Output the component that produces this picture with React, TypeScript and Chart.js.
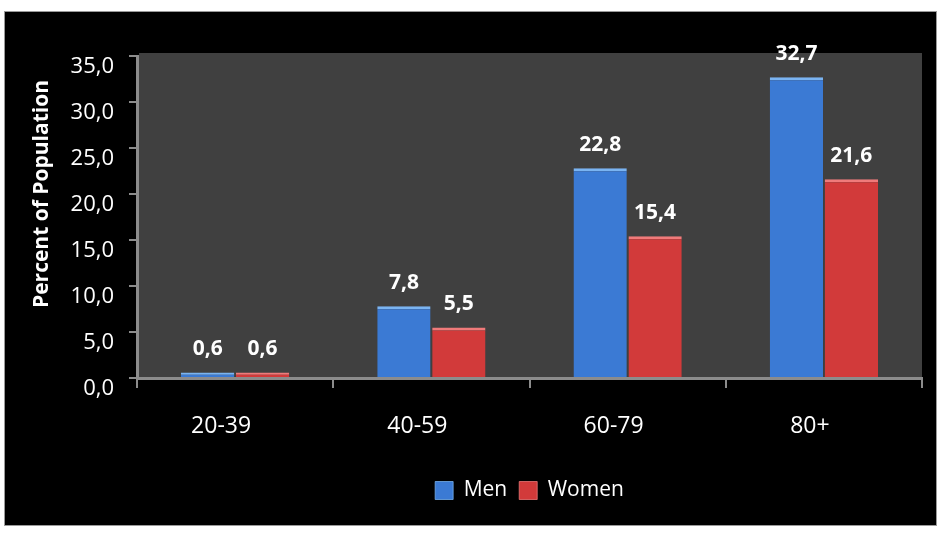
import React, { useEffect, useRef } from "react";
import { Chart, registerables } from "chart.js";

Chart.register(...registerables);

const categories = ["20-39", "40-59", "60-79", "80+"];
const seriesNames = ["Men", "Women"];
const menValues = [0.6, 7.8, 22.8, 32.7];
const womenValues = [0.6, 5.5, 15.4, 21.6];
const yTicks = [0, 5, 10, 15, 20, 25, 30, 35];
const yTitle = "Percent of Population";

const fmt = (v: number) => v.toFixed(1).replace(".", ",");

const FONT = "'Open Sans', 'DejaVu Sans', sans-serif";

const plotBg = {
  id: "plotBg",
  beforeDraw(chart: any) {
    const { ctx, chartArea } = chart;
    ctx.save();
    ctx.fillStyle = "#404040";
    ctx.fillRect(chartArea.left + 2, chartArea.top - 3, chartArea.right - chartArea.left - 2, chartArea.bottom - chartArea.top + 3);
    ctx.restore();
  },
};

const valueLabels = {
  id: "valueLabels",
  afterDatasetsDraw(chart: any) {
    const { ctx } = chart;
    ctx.save();
    ctx.font = `bold 21px ${FONT}`;
    ctx.fillStyle = "#ffffff";
    ctx.textAlign = "center";
    ctx.textBaseline = "middle";
    chart.data.datasets.forEach((ds: any, di: number) => {
      const meta = chart.getDatasetMeta(di);
      meta.data.forEach((bar: any, i: number) => {
        ctx.fillText(fmt(ds.data[i]), bar.x, bar.y - 23);
      });
    });
    ctx.restore();
  },
};

const yTitlePlugin = {
  id: "yTitlePlugin",
  afterDraw(chart: any) {
    const { ctx } = chart;
    ctx.save();
    ctx.translate(37, 182);
    ctx.rotate(-Math.PI / 2);
    ctx.font = `bold 21px ${FONT}`;
    ctx.fillStyle = "#ffffff";
    ctx.textAlign = "center";
    ctx.textBaseline = "middle";
    ctx.fillText(yTitle, 0, 0);
    ctx.restore();
  },
};

export default function App() {
  const ref = useRef<HTMLCanvasElement>(null);

  useEffect(() => {
    document.body.style.margin = "0";
    const canvas = ref.current!;
    const chart = new Chart(canvas, {
      type: "bar",
      data: {
        labels: categories,
        datasets: [
          {
            label: seriesNames[0],
            data: menValues,
            backgroundColor: "#3b7ad4",
            borderColor: "#7ab4f2",
            borderWidth: { top: 3, left: 0, right: 0, bottom: 0 },
            borderSkipped: false,
            categoryPercentage: 0.56,
            barPercentage: 0.97,
          },
          {
            label: seriesNames[1],
            data: womenValues,
            backgroundColor: "#d23a3a",
            borderColor: "#f07a7a",
            borderWidth: { top: 3, left: 0, right: 0, bottom: 0 },
            borderSkipped: false,
            categoryPercentage: 0.56,
            barPercentage: 0.97,
          },
        ],
      },
      options: {
        animation: false,
        responsive: false,
        maintainAspectRatio: false,
        layout: { padding: { top: 44, right: 14, left: 0, bottom: 14 } },
        plugins: {
          legend: {
            position: "bottom",
            fullSize: false,
            labels: {
              color: "#ffffff",
              font: { family: FONT, size: 21 },
              boxWidth: 18,
              boxHeight: 18,
              padding: 12,
            },
          },
          tooltip: { enabled: false },
        },
        scales: {
          x: {
            grid: {
              display: true,
              drawOnChartArea: false,
              drawTicks: true,
              tickLength: 10,
              color: "#8c8c8c",
              lineWidth: 2,
            },
            border: { display: true, color: "#8c8c8c", width: 3 },
            ticks: {
              color: "#ffffff",
              font: { family: FONT, size: 23 },
              padding: 25,
              labelOffset: -14,
            },
            afterFit(scale: any) {
              scale.height = 90;
            },
          },
          y: {
            min: 0,
            max: 35,
            afterBuildTicks(scale: any) {
              scale.ticks = yTicks.map((v) => ({ value: v }));
            },
            grid: {
              display: true,
              drawOnChartArea: false,
              drawTicks: true,
              tickLength: 8,
              color: "#8c8c8c",
              lineWidth: 2,
            },
            border: { display: true, color: "#8c8c8c", width: 3 },
            ticks: {
              color: "#ffffff",
              font: { family: FONT, size: 22 },
              padding: 15,
              labelOffset: 11,
              callback: (v: any) => fmt(Number(v)),
            },
            afterFit(scale: any) {
              scale.width = 132;
            },
          },
        },
      },
      plugins: [plotBg, valueLabels, yTitlePlugin],
    });
    return () => chart.destroy();
  }, []);

  return (
    <div style={{ position: "relative", width: 945, height: 534, background: "#ffffff" }}>
      <div
        style={{
          position: "absolute",
          left: 4,
          top: 11,
          width: 933,
          height: 515,
          background: "#000000",
          border: "1px solid #9a9a9a",
          boxSizing: "border-box",
        }}
      >
        <canvas ref={ref} width={931} height={513} style={{ display: "block" }} />
      </div>
    </div>
  );
}
